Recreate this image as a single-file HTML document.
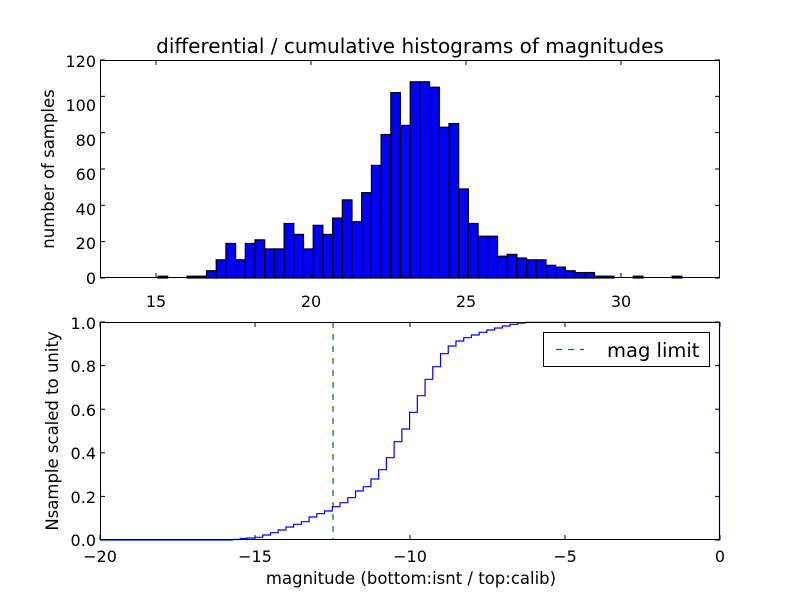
<!DOCTYPE html>
<html><head><meta charset="utf-8"><style>
html,body{margin:0;padding:0;background:#fff;}
svg{display:block;font-family:"DejaVu Sans","Liberation Sans",sans-serif;}
</style></head><body>
<svg id="s" width="800" height="600" xmlns="http://www.w3.org/2000/svg">
<rect width="800" height="600" fill="#fff"/>
<g id="bars"></g>
<rect x="100.5" y="60.5" width="619" height="217" fill="none" stroke="#000" stroke-width="1"/>
<text x="410" y="53" font-size="20" text-anchor="middle">differential / cumulative histograms of magnitudes</text>
<g font-size="16" text-anchor="end">
<text x="96" y="284">0</text><text x="96" y="249">20</text><text x="96" y="215">40</text>
<text x="96" y="180">60</text><text x="96" y="146">80</text><text x="96" y="111">100</text><text x="96" y="67">120</text>
</g>
<g font-size="16" text-anchor="middle">
<text x="156" y="307">15</text><text x="311" y="307">20</text><text x="466" y="307">25</text><text x="621" y="307">30</text>
</g>
<text transform="translate(54,169) rotate(-90)" font-size="16.5" text-anchor="middle">number of samples</text>
<g id="ticks" stroke="#000" stroke-width="1"></g>

<line x1="333" y1="322" x2="333" y2="540" stroke="#007f00" stroke-width="1.2" stroke-dasharray="6,6"/>
<polyline id="cum" fill="none" stroke="#0000ff" stroke-width="1.2"/>
<rect x="100.5" y="322.5" width="619" height="217" fill="none" stroke="#000" stroke-width="1"/>
<g font-size="16" text-anchor="end">
<text x="96" y="546">0.0</text><text x="96" y="503">0.2</text><text x="96" y="459">0.4</text>
<text x="96" y="416">0.6</text><text x="96" y="372">0.8</text><text x="96" y="329">1.0</text>
</g>
<g font-size="16" text-anchor="middle">
<text x="100" y="562">−20</text><text x="255" y="562">−15</text><text x="410" y="562">−10</text><text x="565" y="562">−5</text><text x="720" y="562">0</text>
</g>
<text x="411" y="584" font-size="16.5" text-anchor="middle">magnitude (bottom:isnt / top:calib)</text>
<text transform="translate(58,431) rotate(-90)" font-size="16.5" text-anchor="middle">Nsample scaled to unity</text>
<rect x="543.5" y="332.5" width="166" height="34" fill="#fff" stroke="#000" stroke-width="1"/>
<line x1="556" y1="349.5" x2="584" y2="349.5" stroke="#007f00" stroke-width="1.2" stroke-dasharray="6,6"/>
<text x="607" y="357" font-size="19.5">mag limit</text>
</svg>
<script>
var NS="http://www.w3.org/2000/svg";
function el(t,a,p){var e=document.createElementNS(NS,t);for(var k in a)e.setAttribute(k,a[k]);p.appendChild(e);return e;}
var h=[1,0,0,1,1,4,10,19,10,19,21,16,16,30,24,16,29,24,33,43,31,47,62,79,102,84,108,108,105,83,85,49,30,23,23,12,13,11,10,10,7,6,4,3,3,1,1,0,0,1,0,0,0,1];
var g=document.getElementById("bars"),w=9.7,sc=218/120;
h.forEach(function(v,i){if(!v)return;var x=158+i*w,y=278-v*sc;
el("rect",{x:x,y:y,width:w,height:278-y,fill:"#0000ff",stroke:"#000","stroke-width":1.2},g);});
var t=document.getElementById("ticks");
[156,311,466,621].forEach(function(x){el("line",{x1:x,y1:60,x2:x,y2:65},t);el("line",{x1:x,y1:278,x2:x,y2:273},t);});
for(var i=0;i<=6;i++){var y=278-i*20*sc;el("line",{x1:100,y1:y,x2:105,y2:y},t);el("line",{x1:720,y1:y,x2:715,y2:y},t);}
[100,255,410,565,720].forEach(function(x){el("line",{x1:x,y1:322,x2:x,y2:327},t);el("line",{x1:x,y1:540,x2:x,y2:535},t);});
for(var i=0;i<=5;i++){var y=540-i*43.6;el("line",{x1:100,y1:y,x2:105,y2:y},t);el("line",{x1:720,y1:y,x2:715,y2:y},t);}
var lv=[537.3,535,532.7,530,527,524.3,521.7,517,513.7,511,506.7,502.7,497.7,491,486.7,479,469.7,457.7,441.7,429,412.3,395.7,379.3,366.7,353.7,346,341,337.7,335,332.3,330,328,326,324.3,323,322.3];
var pts=[[100,540],[232,540],[232,539.5],[240,539.5],[240,538.5],[247,538.5],[247,538],[255,538]];
var x=255,sw=7.73;
lv.forEach(function(y,i){pts.push([x,y]);x+=sw;if(i<lv.length-1)pts.push([x,y]);});
pts.push([719.5,322.3],[719.5,540]);
document.getElementById("cum").setAttribute("points",pts.map(function(p){return p[0]+","+p[1];}).join(" "));
</script>
</body></html>
